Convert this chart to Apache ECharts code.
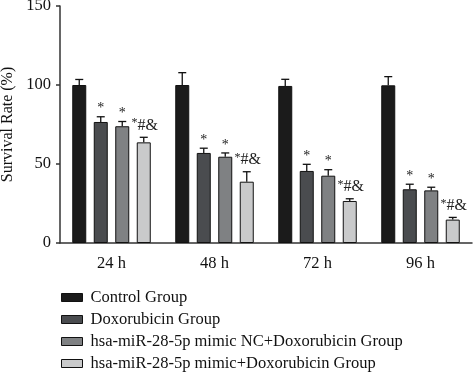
<!DOCTYPE html>
<html>
<head>
<meta charset="utf-8">
<script src="https://cdn.jsdelivr.net/npm/echarts@6/dist/echarts.min.js"></script>
<style>
  html, body { margin: 0; padding: 0; background: #fff; }
  #main { width: 475px; height: 372px; }
</style>
</head>
<body>
<div id="main"></div>
<script>
// categories
var categories = ['24 h', '48 h', '72 h', '96 h'];
var yTicks = [0, 50, 100, 150];

// group means and error (SD)
var controlVals = [100, 100, 99.4, 99.8];
var controlErr = [3.5, 7.8, 4.2, 5.5];
var doxVals = [76.6, 57, 45.6, 34];
var doxErr = [3.3, 3, 4.2, 3.2];
var ncVals = [73.9, 54.6, 42.6, 33.3];
var ncErr = [3, 2.4, 3.8, 2];
var mimicVals = [63.7, 38.8, 26.6, 14.8];
var mimicErr = [3.2, 6.3, 1.4, 1.4];

var groupNames = [
  'Control Group',
  'Doxorubicin Group',
  'hsa-miR-28-5p mimic NC+Doxorubicin Group',
  'hsa-miR-28-5p mimic+Doxorubicin Group'
];
var groupColors = ['#1b1b1b', '#4a4c4f', '#7f8183', '#c9cacb'];
var groupMarks = ['', '*', '*', '*#&'];

var allVals = [controlVals, doxVals, ncVals, mimicVals];
var allErr = [controlErr, doxErr, ncErr, mimicErr];

var font = '"Liberation Serif", "DejaVu Serif", serif';
var barW = 14;
var barGap = 7.5;

var chart = echarts.init(document.getElementById('main'));

var series = [];
groupNames.forEach(function (name, i) {
  series.push({
    name: name,
    type: 'bar',
    data: allVals[i],
    barWidth: barW,
    barGap: (barGap / barW * 100) + '%',
    itemStyle: { color: groupColors[i], borderColor: '#111', borderWidth: 1 },
    z: 2
  });
});

// error bars + significance marks
groupNames.forEach(function (name, i) {
  var d = allVals[i].map(function (v, k) { return [k, v, allErr[i][k]]; });
  series.push({
    type: 'custom',
    name: name + ' err',
    data: d,
    z: 3,
    silent: true,
    renderItem: function (params, api) {
      var k = api.value(0), v = api.value(1), e = api.value(2);
      var total = 4 * barW + 3 * barGap;
      var off = -total / 2 + barW / 2 + i * (barW + barGap);
      var p0 = api.coord([k, v]);
      var p1 = api.coord([k, v + e]);
      var x = p0[0] + off;
      var children = [
        { type: 'line', shape: { x1: x, y1: p0[1], x2: x, y2: p1[1] }, style: { stroke: '#111', lineWidth: 1.3 } },
        { type: 'line', shape: { x1: x - 4, y1: p1[1], x2: x + 4, y2: p1[1] }, style: { stroke: '#111', lineWidth: 1.3 } }
      ];
      if (groupMarks[i] === '*') {
        children.push({
          type: 'text',
          x: x, y: p1[1] - 1,
          style: { text: '*', font: '14px ' + font, fill: '#222', align: 'center', verticalAlign: 'bottom' }
        });
      } else if (groupMarks[i]) {
        children.push({
          type: 'text',
          x: x + 1, y: p1[1] - 4,
          style: {
            text: '{s|*}{n|#&}',
            align: 'center', verticalAlign: 'bottom',
            rich: {
              s: { font: '12px ' + font, fill: '#222', verticalAlign: 'top' },
              n: { font: '16px ' + font, fill: '#222' }
            }
          }
        });
      }
      return { type: 'group', children: children };
    }
  });
});

var option = {
  animation: false,
  backgroundColor: '#fff',
  textStyle: { fontFamily: font },
  legend: {
    data: groupNames,
    orient: 'vertical',
    left: 61,
    top: 289,
    padding: 0,
    height: 90,
    itemWidth: 21,
    itemHeight: 8,
    itemGap: 5,
    icon: 'rect',
    textStyle: { fontFamily: font, fontSize: 16.5, color: '#111', padding: [0, 0, 0, 3] },
    itemStyle: { borderColor: '#111', borderWidth: 1 }
  },
  grid: { left: 60, right: 3, top: 6, bottom: 129, containLabel: false, outerBoundsMode: 'none' },
  xAxis: {
    type: 'category',
    data: categories,
    axisLine: { lineStyle: { color: '#333', width: 1.5 } },
    axisTick: { alignWithLabel: true, length: 4, lineStyle: { color: '#333', width: 1.5 } },
    axisLabel: { fontFamily: font, fontSize: 16.5, color: '#111', margin: 12 }
  },
  yAxis: {
    type: 'value',
    min: 0, max: 150, interval: 50,
    name: 'Survival Rate (%)',
    nameLocation: 'middle',
    nameGap: 39,
    nameTextStyle: { fontFamily: font, fontSize: 16, color: '#111' },
    axisLine: { show: true, lineStyle: { color: '#333', width: 1.5 } },
    axisTick: { show: true, length: 4, lineStyle: { color: '#333', width: 1.5 } },
    axisLabel: {
      fontFamily: font, fontSize: 16.5, color: '#111', margin: 9,
      formatter: function (v) { return yTicks.indexOf(v) >= 0 ? String(v) : ''; }
    },
    splitLine: { show: false }
  },
  series: series
};

chart.setOption(option);
</script>
</body>
</html>
